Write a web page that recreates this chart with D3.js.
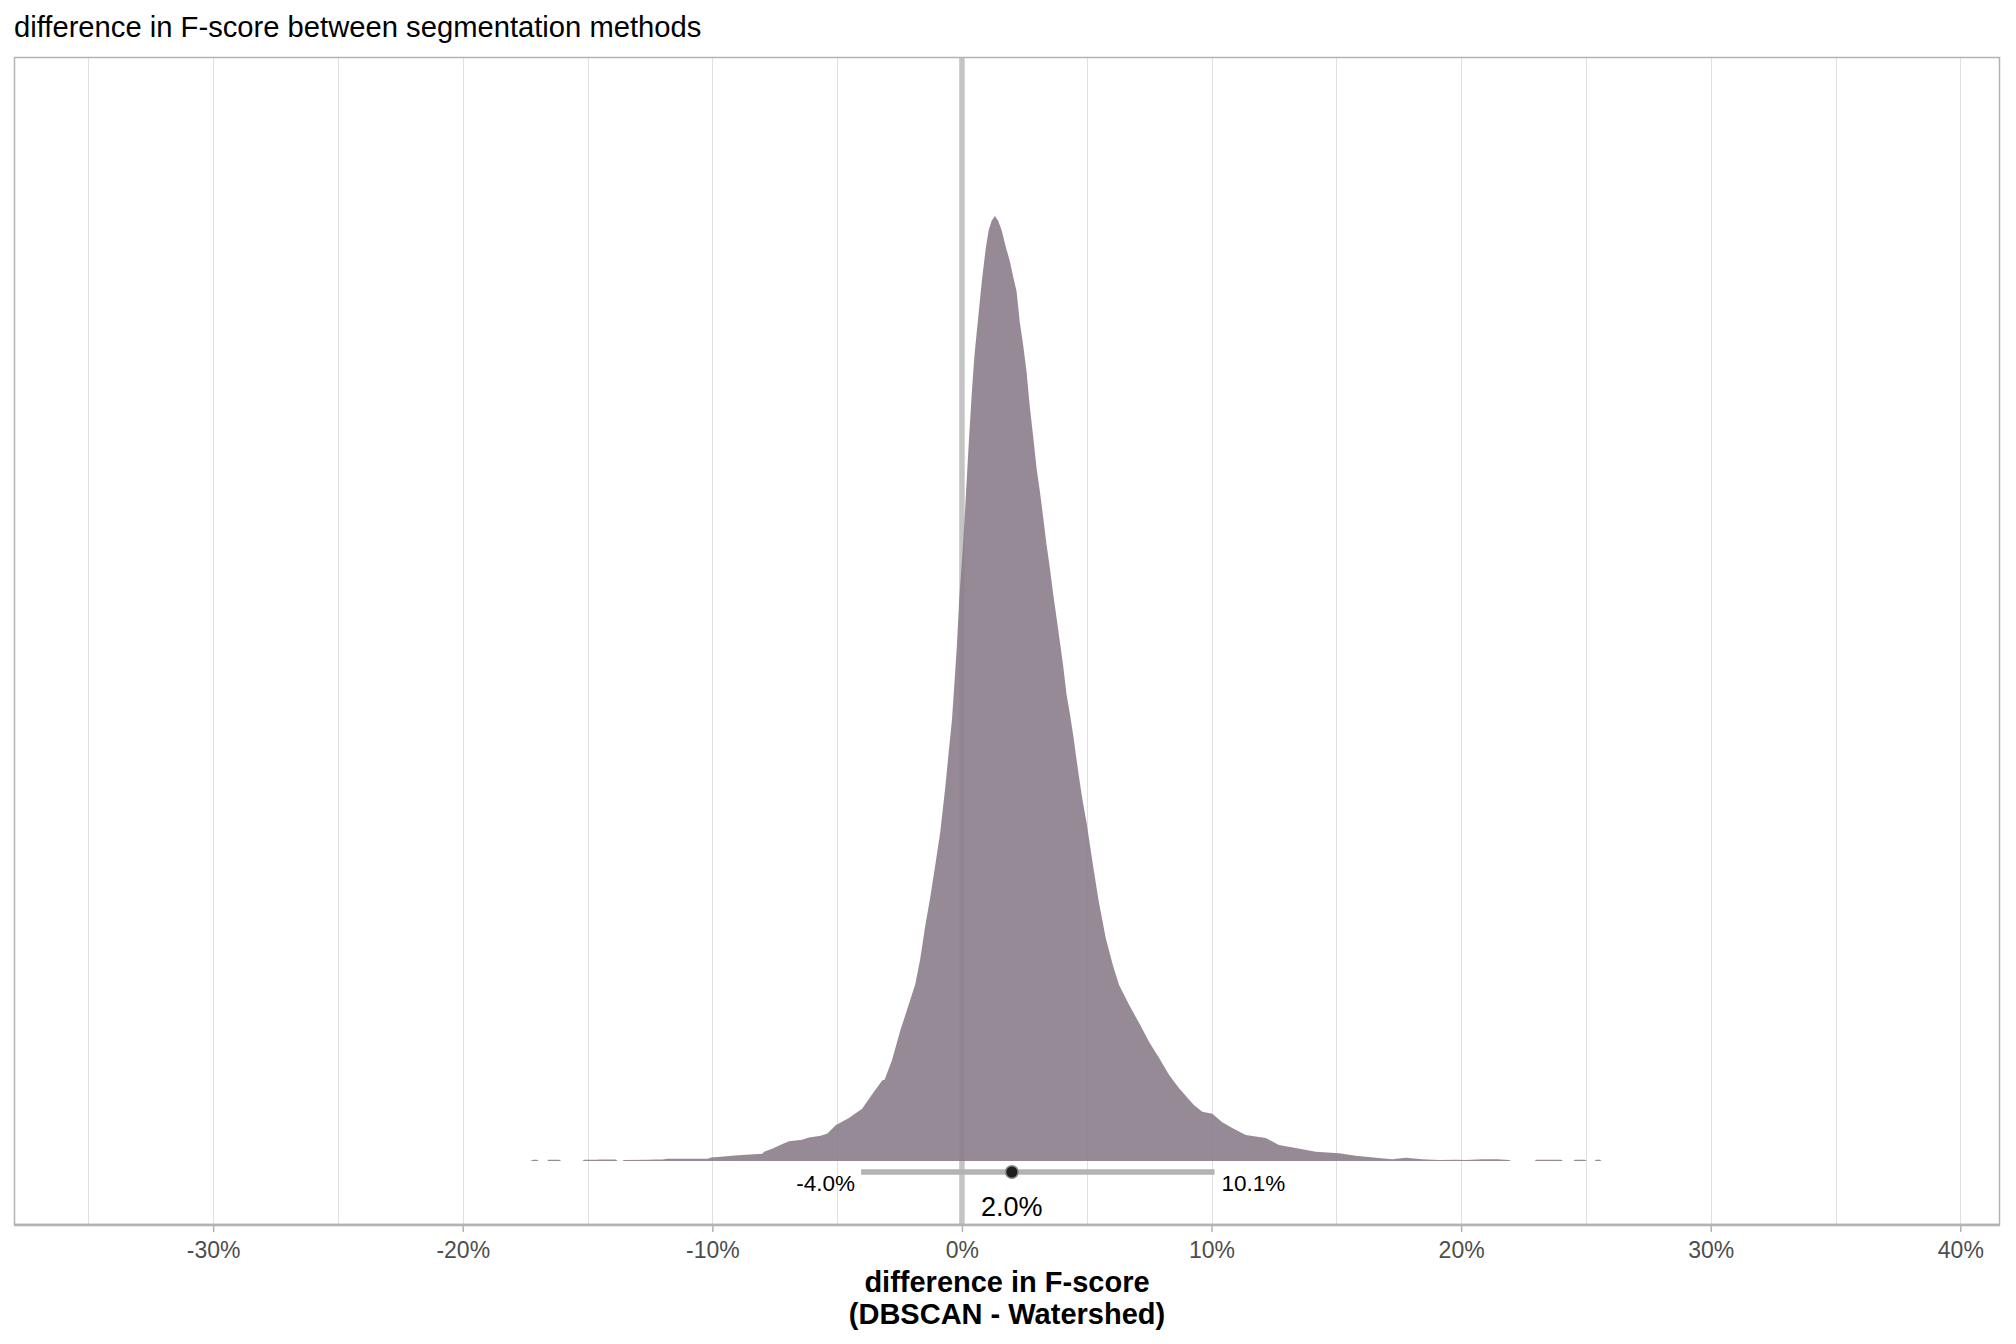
<!DOCTYPE html>
<html>
<head>
<meta charset="utf-8">
<script src="https://cdn.jsdelivr.net/npm/d3@7"></script>
<style>
  html, body { margin: 0; padding: 0; background: #ffffff; }
  svg { display: block; font-family: "Liberation Sans", Arial, sans-serif; }
</style>
</head>
<body>
<svg id="chart" width="2016" height="1344"></svg>
<script>
// ---- data (difference in %, relative density) ----
const diffValues = [
  -17.3, -17.17, -17.04, -16.95, -16.62, -16.57, -16.14, -16.05, -15.2, -15.14, -14.6, -14.57, -13.87, -13.8,
  -13.6, -13.54, -12.54, -12.27, -12.0, -11.8, -10.2, -10.0, -9.9, -9.2, -8.66, -8.0, -7.93, -7.6, -7.26,
  -6.93, -6.4, -6.13, -5.66, -5.39, -5.06, -4.53, -4.0, -3.59, -3.19, -3.1, -2.8, -2.47, -2.2, -1.87,
  -1.67, -1.47, -1.27, -1.07, -0.87, -0.67, -0.53, -0.4, -0.31, -0.2, -0.11, 0.0, 0.1, 0.2, 0.3, 0.4,
  0.5, 0.6, 0.8, 0.96, 1.07, 1.19, 1.32, 1.45, 1.59, 1.76, 1.92, 2.06, 2.19, 2.32, 2.46, 2.59, 2.72,
  2.86, 2.99, 3.12, 3.26, 3.39, 3.52, 3.66, 3.79, 3.92, 4.06, 4.19, 4.32, 4.46, 4.59, 4.72, 4.83,
  5.0, 5.25, 5.48, 5.76, 6.05, 6.3, 6.7, 7.16, 7.5, 7.9, 8.3, 8.7, 9.3, 9.63, 10.03, 10.43, 10.83,
  11.37, 12.17, 12.7, 13.37, 14.17, 15.11, 15.77, 16.58, 17.24, 17.78, 18.44, 19.11, 19.78, 20.18,
  20.85, 21.45, 21.92, 22.0, 22.95, 23.0, 24.0, 24.08, 24.5, 24.56, 24.96, 25.04, 25.35, 25.4, 25.56, 25.62
];
const densityValues = [
  0, 0.0012, 0.0012, 0, 0, 0.0012, 0.0012, 0, 0, 0.0012, 0.0012, 0.0016, 0.0016, 0,
  0, 0.0010, 0.0012, 0.0016, 0.0016, 0.0024, 0.0024, 0.0039, 0.0039, 0.0056, 0.0067, 0.0077, 0.0098, 0.013, 0.0172,
  0.021, 0.0225, 0.025, 0.0268, 0.029, 0.0378, 0.0455, 0.0553, 0.0709, 0.0854, 0.086, 0.107, 0.138, 0.160, 0.187,
  0.214, 0.249, 0.279, 0.313, 0.348, 0.395, 0.433, 0.467, 0.502, 0.547, 0.594, 0.635, 0.677, 0.725, 0.772, 0.815,
  0.852, 0.879, 0.932, 0.967, 0.985, 0.995, 1.0, 0.995, 0.985, 0.967, 0.952, 0.935, 0.920, 0.887, 0.862, 0.835, 0.798,
  0.765, 0.733, 0.709, 0.680, 0.652, 0.628, 0.599, 0.575, 0.550, 0.523, 0.494, 0.474, 0.450, 0.425, 0.401, 0.382,
  0.357, 0.313, 0.275, 0.236, 0.207, 0.186, 0.165, 0.143, 0.126, 0.109, 0.091, 0.077, 0.059, 0.052, 0.050, 0.041, 0.035,
  0.0275, 0.0243, 0.0169, 0.0138, 0.0098, 0.0081, 0.0056, 0.0035, 0.0018, 0.0035, 0.0018, 0.0010, 0.0014, 0.0010,
  0.0018, 0.0018, 0.0010, 0, 0, 0.0012, 0.0012, 0, 0, 0.0012, 0.0012, 0, 0, 0.0012, 0.0012, 0
];
const intervalLower = -4.04;
const intervalUpper = 10.12;
const intervalPoint = 2.0;
const gridValues = [-35, -30, -25, -20, -15, -10, -5, 0, 5, 10, 15, 20, 25, 30, 35, 40];
const tickValues = [-30, -20, -10, 0, 10, 20, 30, 40];
const titleText = "difference in F-score between segmentation methods";
const xTitleLines = ["difference in F-score", "(DBSCAN - Watershed)"];

// ---- layout ----
const svg = d3.select("#chart");
const panel = { left: 14, right: 2000, top: 57, bottom: 1225 };
const x = d3.scaleLinear().domain([-37.98, 41.59]).range([panel.left, panel.right]);
const y = d3.scaleLinear().domain([0, 1]).range([1161, 216]);
const intervalY = 1172;

// title
svg.append("text")
  .attr("x", 14).attr("y", 37)
  .attr("font-size", 29.2).attr("fill", "#000")
  .text(titleText);

// gridlines
svg.append("g").selectAll("line").data(gridValues).join("line")
  .attr("x1", d => Math.round(x(d)) + 0.5).attr("x2", d => Math.round(x(d)) + 0.5)
  .attr("y1", panel.top).attr("y2", panel.bottom)
  .attr("stroke", "#e0e0e0").attr("stroke-width", 1);

// zero reference line
svg.append("line")
  .attr("x1", x(0)).attr("x2", x(0))
  .attr("y1", panel.top).attr("y2", panel.bottom)
  .attr("stroke", "#c4c4c4").attr("stroke-width", 5.5);

// density slab
const pts = diffValues.map((v, i) => ({ v, d: densityValues[i] }));
const area = d3.area()
  .x(p => x(p.v))
  .y0(y(0))
  .y1(p => y(p.d))
  .curve(d3.curveLinear);
svg.append("path")
  .datum(pts)
  .attr("d", area)
  .attr("fill", "#8b7d8c")
  .attr("fill-opacity", 0.9);

// interval
svg.append("line")
  .attr("x1", x(intervalLower)).attr("x2", x(intervalUpper))
  .attr("y1", intervalY).attr("y2", intervalY)
  .attr("stroke", "#b3b3b3").attr("stroke-width", 5.5);
svg.append("circle")
  .attr("cx", x(intervalPoint)).attr("cy", intervalY).attr("r", 6.3)
  .attr("fill", "#1f1f1f").attr("stroke", "#8c8c8c").attr("stroke-width", 1.5);

const fmt = v => d3.format(".1f")(v).replace("\u2212", "-") + "%";
svg.append("text")
  .attr("x", x(intervalLower) - 6).attr("y", 1191)
  .attr("text-anchor", "end").attr("font-size", 22.5).attr("fill", "#000")
  .text(fmt(intervalLower));
svg.append("text")
  .attr("x", x(intervalUpper) + 7).attr("y", 1191)
  .attr("text-anchor", "start").attr("font-size", 22.5).attr("fill", "#000")
  .text(fmt(intervalUpper));
svg.append("text")
  .attr("x", x(intervalPoint)).attr("y", 1216)
  .attr("text-anchor", "middle").attr("font-size", 27).attr("fill", "#000")
  .text(fmt(intervalPoint));

// panel border
svg.append("rect")
  .attr("x", panel.left + 0.5).attr("y", panel.top + 0.5)
  .attr("width", panel.right - panel.left - 1).attr("height", panel.bottom - panel.top - 1)
  .attr("fill", "none").attr("stroke", "#b3b3b3").attr("stroke-width", 1.5);

// x axis
const axis = d3.axisBottom(x).tickValues(tickValues).tickFormat(d => d + "%").tickSize(7).tickPadding(10);
const gAxis = svg.append("g").attr("transform", `translate(0,${panel.bottom})`).call(axis);
gAxis.select(".domain").remove();
gAxis.selectAll(".tick line").attr("stroke", "#b3b3b3").attr("stroke-width", 1.5);
gAxis.selectAll(".tick text").attr("fill", "#4d4d4d").attr("font-size", 23)
  .attr("font-family", "'Liberation Sans', Arial, sans-serif");
svg.append("line")
  .attr("x1", panel.left).attr("x2", panel.right)
  .attr("y1", panel.bottom).attr("y2", panel.bottom)
  .attr("stroke", "#b3b3b3").attr("stroke-width", 2.5);

// x axis title
const cx = (panel.left + panel.right) / 2;
svg.append("text")
  .attr("x", cx).attr("y", 1292)
  .attr("text-anchor", "middle").attr("font-size", 29).attr("font-weight", "bold").attr("fill", "#000")
  .text(xTitleLines[0]);
svg.append("text")
  .attr("x", cx).attr("y", 1324)
  .attr("text-anchor", "middle").attr("font-size", 29).attr("font-weight", "bold").attr("fill", "#000")
  .text(xTitleLines[1]);
</script>
</body>
</html>
